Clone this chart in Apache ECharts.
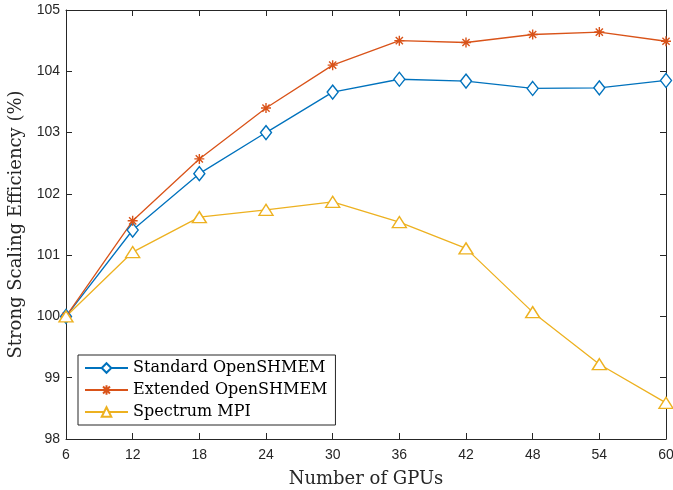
<!DOCTYPE html>
<html>
<head>
    <meta charset="utf-8">
    <title>index</title>
</head>
<body style="margin:0">
    <div id="main" style="width: 673px;height:490px;"></div>
    <script src="https://cdn.jsdelivr.net/npm/echarts@6/dist/echarts.min.js"></script>
    <script>
        // 数据
        var gpus = [6, 12, 18, 24, 30, 36, 42, 48, 54, 60];
        var standard = [100, 101.41, 102.33, 103.00, 103.66, 103.87, 103.84, 103.72, 103.73, 103.85];
        var extended = [100, 101.56, 102.57, 103.40, 104.10, 104.50, 104.47, 104.60, 104.64, 104.49];
        var spectrum = [100, 101.05, 101.62, 101.74, 101.87, 101.54, 101.11, 100.07, 99.22, 98.59];
        var names = ['Standard OpenSHMEM', 'Extended OpenSHMEM', 'Spectrum MPI'];

        var colors = ['#0072BD', '#D95319', '#EDB120'];
        var star = 'path://M0,-5L0,5M-5,0L5,0M-3.6,-3.6L3.6,3.6M-3.6,3.6L3.6,-3.6';
        var axisColor = '#262626';

        function pairs(arr) {
            return arr.map(function (v, i) { return [gpus[i], v]; });
        }

        function mkSeries(name, data, color, symbol, size, fill) {
            return {
                name: name,
                type: 'line',
                data: pairs(data),
                symbol: symbol,
                symbolSize: size,
                showAllSymbol: true,
                animation: false,
                lineStyle: { color: color, width: 1.3 },
                itemStyle: { color: fill, borderColor: color, borderWidth: 1.4 }
            };
        }

        var myChart = echarts.init(document.getElementById('main'));
        var tickLabel = { color: axisColor, fontFamily: 'Liberation Sans', fontSize: 14 };
        var option = {
            backgroundColor: '#fff',
            grid: { left: 66, right: 7, top: 10, bottom: 51, outerBoundsMode: 'none' },
            legend: {
                orient: 'vertical',
                left: 78,
                top: 355,
                itemWidth: 43,
                itemHeight: 12,
                itemGap: 6,
                padding: [5, 8, 5, 6],
                borderColor: '#262626',
                borderWidth: 1,
                backgroundColor: '#fff',
                data: names,
                textStyle: { fontFamily: 'DejaVu Serif', fontSize: 16, color: '#000' }
            },
            xAxis: [{
                type: 'value',
                min: 6, max: 60, interval: 6,
                name: 'Number of GPUs',
                nameLocation: 'middle',
                nameGap: 31,
                nameTextStyle: { fontFamily: 'DejaVu Serif', fontSize: 18, color: axisColor },
                axisLine: { lineStyle: { color: axisColor } },
                axisTick: { inside: true, length: 6, lineStyle: { color: axisColor } },
                axisLabel: Object.assign({ margin: 9 }, tickLabel),
                splitLine: { show: false }
            }, {
                type: 'value', position: 'top',
                min: 6, max: 60, interval: 6,
                axisLine: { lineStyle: { color: axisColor } },
                axisTick: { inside: true, length: 6, lineStyle: { color: axisColor } },
                axisLabel: { show: false },
                splitLine: { show: false }
            }],
            yAxis: [{
                type: 'value',
                min: 98, max: 105, interval: 1,
                name: 'Strong Scaling Efficiency (%)',
                nameLocation: 'middle',
                nameGap: 41,
                nameTextStyle: { fontFamily: 'DejaVu Serif', fontSize: 18, color: axisColor },
                axisLine: { show: true, lineStyle: { color: axisColor } },
                axisTick: { show: true, inside: true, length: 6, lineStyle: { color: axisColor } },
                axisLabel: Object.assign({ margin: 6 }, tickLabel),
                splitLine: { show: false }
            }, {
                type: 'value', position: 'right',
                min: 98, max: 105, interval: 1,
                axisLine: { show: true, lineStyle: { color: axisColor } },
                axisTick: { show: true, inside: true, length: 6, lineStyle: { color: axisColor } },
                axisLabel: { show: false },
                splitLine: { show: false }
            }],
            series: [
                mkSeries(names[0], standard, colors[0], 'diamond', [11, 14], '#fff'),
                mkSeries(names[1], extended, colors[1], star, 10, colors[1]),
                mkSeries(names[2], spectrum, colors[2], 'triangle', [14, 11], '#fff')
            ]
        };
        myChart.setOption(option);
    </script>
</body>
</html>
